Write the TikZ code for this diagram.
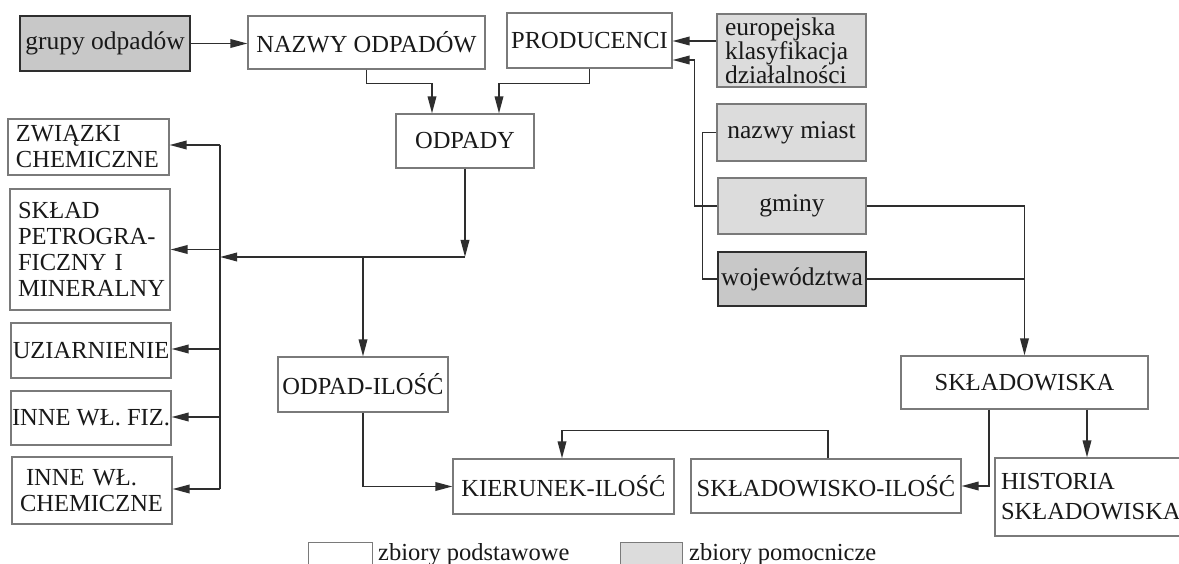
\documentclass[tikz,border=0pt]{standalone}
\usepackage{fontspec}
\setmainfont{Liberation Serif}
\usetikzlibrary{arrows.meta}
\definecolor{linec}{HTML}{2E2E2E}
\definecolor{boxc}{HTML}{7A7A7A}
\definecolor{auxfill}{HTML}{DCDCDC}
\definecolor{darkfill}{HTML}{C8C8C8}
\tikzset{
 base/.style={draw=boxc, line width=1.1pt, inner sep=0pt, text=black!90, align=center,
   font=\fontsize{24.5}{26}\selectfont},
 mainbox/.style={base, fill=white},
 leftbox/.style={mainbox, align=left, inner xsep=8pt},
 auxbox/.style={base, fill=auxfill, font=\fontsize{25.5}{24}\selectfont},
 darkbox/.style={base, fill=darkfill, draw=linec, line width=2pt, font=\fontsize{25.5}{24}\selectfont},
 conn/.style={draw=linec, line width=1.8pt},
 arr/.style={conn, -{Triangle[length=17pt,width=8.5pt]}},
 legtext/.style={inner sep=0pt, anchor=base west, text=black!90, font=\fontsize{24.5}{26}\selectfont},
}
\begin{document}
\begin{tikzpicture}[x=1pt,y=-1pt]
\useasboundingbox (0,0) rectangle (1179,564);
\fill[white] (0,0) rectangle (1179,564);

% top row
\node[darkbox, minimum width=170, minimum height=55] (grupy) at (105,43.5) {grupy odpadów};
\node[mainbox, minimum width=237, minimum height=53] (nazwy) at (366.5,42.5) {NAZWY ODPADÓW};
\node[mainbox, minimum width=165, minimum height=55] (prod) at (589.5,40.5) {PRODUCENCI};
\node[auxbox, minimum height=73, text width=133, inner xsep=8pt, align=left] (euro) at (791.5,50.5) {europejska\\klasyfikacja\\działalności};
\node[auxbox, minimum width=149, minimum height=57] (miast) at (791.5,132.5) {nazwy miast};
\node[auxbox, minimum width=148, minimum height=56] (gminy) at (792,206) {gminy};
\node[darkbox, minimum width=148, minimum height=54] (woj) at (792,279) {województwa};

\node[mainbox, minimum width=138, minimum height=54] (odpady) at (465,141) {ODPADY};

% left column
\node[leftbox, text width=145, minimum height=56] (zwiazki) at (88.5,147) {ZWIĄZKI\\CHEMICZNE};
\node[leftbox, text width=144, minimum height=121] (sklad) at (90,249.5) {SKŁAD\\PETROGRA-\\FICZNY I\\MINERALNY};
\node[mainbox, minimum width=160, minimum height=55] (uziar) at (91,350.5) {UZIARNIENIE};
\node[mainbox, minimum width=160, minimum height=54] (fiz) at (91,418) {INNE WŁ. FIZ.};
\node[leftbox, text width=144, inner xsep=8pt, minimum height=67] (chem) at (92,490.5) {\hspace*{6pt}INNE WŁ.\\CHEMICZNE};

% lower part
\node[mainbox, minimum width=170, minimum height=55] (odpil) at (363,384.5) {ODPAD-ILOŚĆ};
\node[mainbox, minimum width=221, minimum height=55] (kier) at (563.5,486.5) {KIERUNEK-ILOŚĆ};
\node[mainbox, minimum width=270, minimum height=54] (skil) at (826,486) {SKŁADOWISKO-ILOŚĆ};
\node[mainbox, minimum width=247, minimum height=53] (skladowiska) at (1024.5,382.5) {SKŁADOWISKA};
\node[mainbox, text width=184, inner xsep=6pt, align=left, minimum height=78,
      font=\fontsize{24.5}{30}\selectfont] (hist) at (1093,497) {HISTORIA\\SKŁADOWISKA};

% legend
\node[mainbox, minimum width=64, minimum height=30, anchor=north west] (legw) at (308,542) {};
\node[legtext] (legwt) at (378,560) {zbiory podstawowe};
\node[base, fill=auxfill, minimum width=62, minimum height=30, anchor=north west] (legg) at (620,542) {};
\node[legtext] (leggt) at (689,560) {zbiory pomocnicze};

% connectors: top
\draw[arr] (grupy.east) -- (grupy.east -| nazwy.west);
\draw[arr] (nazwy.south) -- ++(0,14) -| ([xshift=-33pt]odpady.north);
\draw[arr] (prod.south) -- ++(0,15) -| ([xshift=34pt]odpady.north);
\draw[arr] ([yshift=9.5pt]euro.west) -- ([yshift=9.5pt]euro.west -| prod.east);
\draw[arr] (gminy.west) -- ++(-23,0) |- ([yshift=-19.5pt]prod.east);
\draw[conn] (miast.west) -- ++(-14,0) |- (woj.west);
\draw[arr] (gminy.east) -| (skladowiska.north);
\draw[conn] (woj.east) -- (woj.east -| skladowiska.north);

% connectors: odpady to left column
\coordinate (hub) at (465,257);
\coordinate (busx) at (220,0);
\draw[arr] (odpady.south) -- (hub);
\draw[arr] (hub) -- (hub -| busx);
\draw[conn] ([yshift=2pt]zwiazki.east -| busx) -- ([yshift=1.5pt]chem.east -| busx);
\draw[arr] ([yshift=2pt]zwiazki.east -| busx) -- ([yshift=2pt]zwiazki.east);
\draw[arr] (sklad.east -| busx) -- (sklad.east);
\draw[arr] ([yshift=1.5pt]uziar.east -| busx) -- ([yshift=1.5pt]uziar.east);
\draw[arr] ([yshift=1pt]fiz.east -| busx) -- ([yshift=1pt]fiz.east);
\draw[arr] ([yshift=1.5pt]chem.east -| busx) -- ([yshift=1.5pt]chem.east);

% connectors: lower
\draw[arr] (hub -| odpil.north) -- (odpil.north);
\draw[arr] (odpil.south) |- (kier.west);
\draw[arr] ([xshift=2pt]skil.north) -- ++(0,-28) -| ([xshift=-1.5pt]kier.north);
\draw[arr] ([xshift=-35.5pt]skladowiska.south) |- (skil.east);
\draw[arr] ([xshift=62.5pt]skladowiska.south) -- ([xshift=62.5pt]skladowiska.south |- hist.north);
\end{tikzpicture}
\end{document}
